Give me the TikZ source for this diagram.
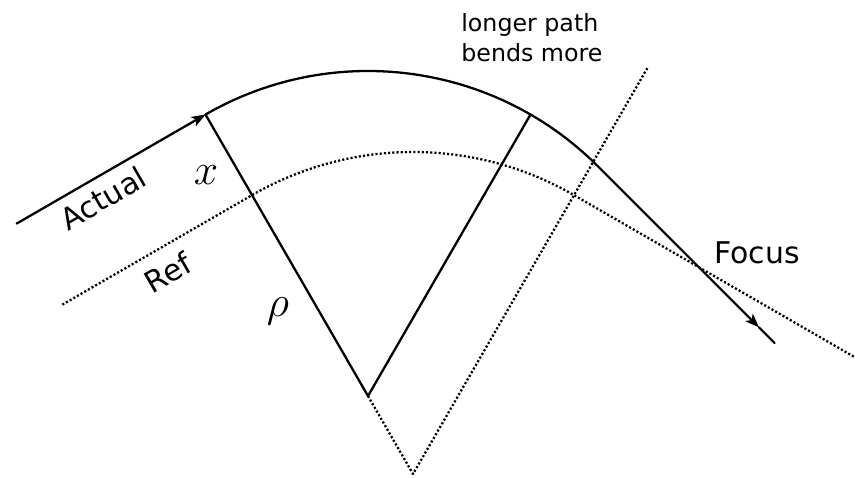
\documentclass[tikz,border=0pt]{standalone}
\usepackage{fontspec}
\setsansfont{DejaVu Sans}
\usetikzlibrary{calc,arrows.meta}

\tikzset{
  ray/.style={line width=1.3pt},
  refray/.style={line width=1.3pt,line cap=butt,dash pattern=on 1.2pt off 1.2pt},
  tip/.style={-{Stealth[length=8pt,width=6pt,inset=2pt]}},
  lbl/.style={font=\sffamily\fontsize{17}{20}\selectfont,inner sep=0pt},
  mathlbl/.style={font=\fontsize{25}{28}\selectfont,inner sep=0pt},
}

\begin{document}
\begin{tikzpicture}[x=0.02cm,y=0.02cm,line cap=round,line join=round]
  \useasboundingbox (0,0) rectangle (855,477);

  % Centros de curvatura
  \coordinate (cact) at (368,81);
  \coordinate (cref) at (413,3);

  %----------------------------------------------------------
  % Trayectoria real
  \coordinate (actin)    at ($(cact)+(120:325)$);
  \coordinate (actmid)   at ($(cact)+(60:325)$);
  \coordinate (actout)   at ($(cact)+(45:325)$);
  \coordinate (actstart) at ($(actin)+(210:218)$);
  \coordinate (acttip)   at ($(actout)+(-45:228)$);
  \coordinate (actend)   at ($(actout)+(-45:250)$);

  \draw[ray,tip] (actstart) -- (actin);
  \draw[ray] (actin) arc[start angle=120,end angle=45,radius=325];
  \draw[ray,tip] (actout) -- (acttip);
  \draw[ray] (acttip) -- (actend);
  \draw[ray] (actin) -- (cact) -- (actmid);

  %----------------------------------------------------------
  % Trayectoria de referencia
  \coordinate (refin)    at ($(cref)+(120:322)$);
  \coordinate (refout)   at ($(cref)+(60:322)$);
  \coordinate (refstart) at ($(refin)+(210:219)$);
  \coordinate (refend)   at ($(refout)+(-30:325)$);
  \coordinate (reftop)   at ($(cref)+(60:470)$);

  \draw[refray] (refstart) -- (refin)
      arc[start angle=120,end angle=60,radius=322] -- (refend);
  \draw[refray] (cact) -- (cref) -- (reftop);

  % Etiquetas
  \node[lbl,rotate=30] (actual) at (103,279) {Actual};
  \node[lbl,rotate=30] (ref) at (168,204) {Ref};
  \node[lbl] (focus) at (757,224) {Focus};
  \node[lbl,font=\sffamily\fontsize{13.5}{17}\selectfont,align=left,
        anchor=north west] (note) at (461,464) {longer path\\bends more};
  \node[mathlbl] (xlen) at (206,302) {$x$};
  \node[mathlbl] (rholbl) at (278,166) {$\rho$};
\end{tikzpicture}
\end{document}
